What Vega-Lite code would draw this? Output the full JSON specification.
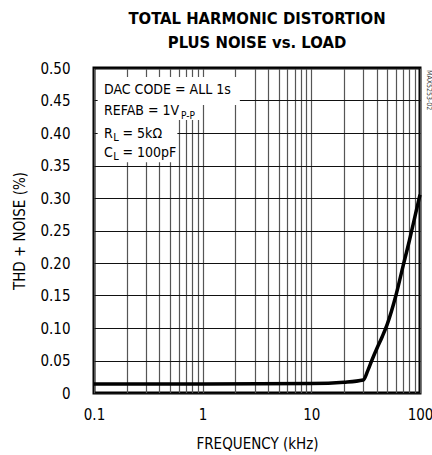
{
  "$schema": "https://vega.github.io/schema/vega-lite/v6.json",
  "width": 326,
  "height": 325,
  "autosize": "none",
  "padding": {"left": 94, "top": 68, "right": 12, "bottom": 62},
  "background": "white",
  "config": {
    "font": "DejaVu Sans Condensed",
    "view": {"stroke": "black", "strokeWidth": 3},
    "axis": {"labelFont": "DejaVu Sans Condensed", "titleFont": "DejaVu Sans Condensed", "labelColor": "black", "titleColor": "black", "titleFontWeight": "normal", "domain": false, "ticks": false}
  },
  "title": {
    "text": ["TOTAL HARMONIC DISTORTION", "PLUS NOISE vs. LOAD"],
    "font": "DejaVu Sans Condensed",
    "fontWeight": "bold",
    "fontSize": 16.5,
    "lineHeight": 24,
    "anchor": "middle",
    "color": "black",
    "offset": 10
  },
  "datasets": {
    "curve": [
      {"f": 0.1, "v": 0.014},
      {"f": 1, "v": 0.014},
      {"f": 10, "v": 0.0145},
      {"f": 20, "v": 0.0165},
      {"f": 30, "v": 0.02},
      {"f": 33, "v": 0.034},
      {"f": 36, "v": 0.05},
      {"f": 40, "v": 0.068},
      {"f": 45, "v": 0.087},
      {"f": 50, "v": 0.106},
      {"f": 60, "v": 0.15},
      {"f": 70, "v": 0.196},
      {"f": 80, "v": 0.235},
      {"f": 90, "v": 0.272},
      {"f": 100, "v": 0.305}
    ],
    "boxes": [
      {"f": 0.108, "f2": 2.2, "v": 0.443, "v2": 0.486},
      {"f": 0.108, "f2": 0.98, "v": 0.42, "v2": 0.445},
      {"f": 0.108, "f2": 0.585, "v": 0.355, "v2": 0.422}
    ],
    "labels": [
      {"f": 0.1236, "v": 0.46, "t": "DAC CODE = ALL 1s", "s": 14},
      {"f": 0.1236, "v": 0.4277, "t": "REFAB = 1V", "s": 14},
      {"f": 0.632, "v": 0.4215, "t": "P-P", "s": 10},
      {"f": 0.1236, "v": 0.392, "t": "R", "s": 14},
      {"f": 0.150, "v": 0.3877, "t": "L", "s": 11},
      {"f": 0.183, "v": 0.392, "t": "= 5kΩ", "s": 14},
      {"f": 0.1236, "v": 0.363, "t": "C", "s": 14},
      {"f": 0.150, "v": 0.3585, "t": "L", "s": 11},
      {"f": 0.183, "v": 0.363, "t": "= 100pF", "s": 14}
    ],
    "code": [{"f": 100, "v": 0.5, "t": "MAX5253-02"}]
  },
  "encoding": {
    "x": {
      "field": "f", "type": "quantitative",
      "scale": {"type": "log", "domain": [0.1, 100], "nice": false},
      "axis": {
        "title": "FREQUENCY (kHz)",
        "values": [0.1, 0.2, 0.3, 0.4, 0.5, 0.6, 0.7, 0.8, 0.9, 1, 2, 3, 4, 5, 6, 7, 8, 9, 10, 20, 30, 40, 50, 60, 70, 80, 90, 100],
        "labelExpr": "indexof([0.1, 1, 10, 100], datum.value) >= 0 ? datum.label : ''",
        "format": "~g",
        "labelFontSize": 15,
        "labelPadding": 14,
        "labelFlush": false,
        "labelOverlap": false,
        "titleFontSize": 15,
        "titlePadding": 14,
        "gridColor": "#555555",
        "gridWidth": 1.2,
        "gridOpacity": 1
      }
    },
    "y": {
      "field": "v", "type": "quantitative",
      "scale": {"domain": [0, 0.5], "nice": false},
      "axis": {
        "title": "THD + NOISE (%)",
        "values": [0, 0.05, 0.1, 0.15, 0.2, 0.25, 0.3, 0.35, 0.4, 0.45, 0.5],
        "labelExpr": "datum.value == 0 ? '0' : format(datum.value, '.2f')",
        "labelFontSize": 15,
        "labelPadding": 24,
        "labelFlush": false,
        "labelOverlap": false,
        "titleFontSize": 15,
        "titlePadding": 12,
        "gridColor": "#111111",
        "gridWidth": 1.2,
        "gridOpacity": 1
      }
    }
  },
  "layer": [
    {
      "data": {"name": "curve"},
      "mark": {"type": "line", "color": "black", "strokeWidth": 3.5, "interpolate": "monotone"}
    },
    {
      "data": {"name": "boxes"},
      "mark": {"type": "rect", "fill": "white", "stroke": null},
      "encoding": {
        "x2": {"field": "f2"},
        "y2": {"field": "v2"}
      }
    },
    {
      "data": {"name": "labels"},
      "mark": {"type": "text", "align": "left", "baseline": "alphabetic", "color": "black"},
      "encoding": {
        "text": {"field": "t"},
        "size": {"field": "s", "type": "quantitative", "scale": null}
      }
    },
    {
      "data": {"name": "code"},
      "mark": {"type": "text", "align": "left", "baseline": "middle", "angle": 90, "dx": 2, "dy": -9, "fontSize": 7, "color": "#333333", "clip": false},
      "encoding": {
        "text": {"field": "t"}
      }
    }
  ]
}
